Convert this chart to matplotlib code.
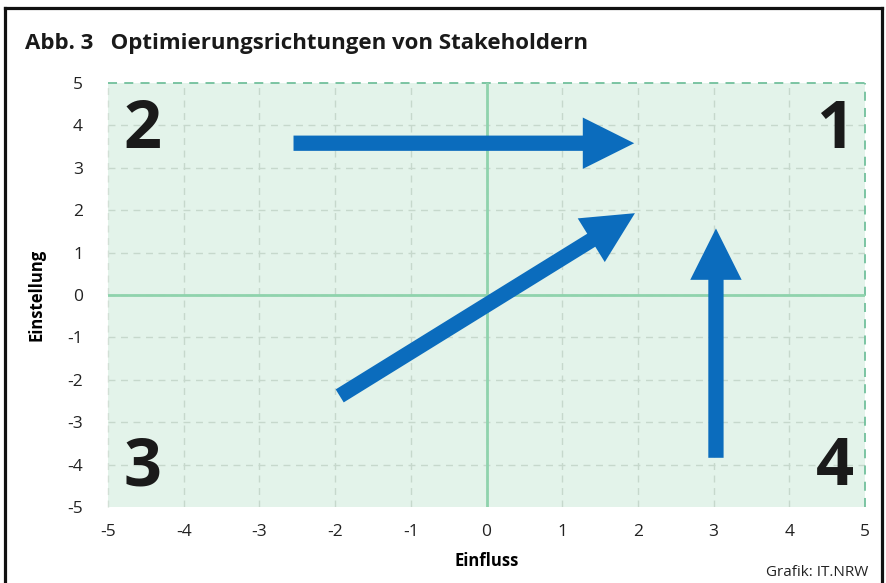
import numpy as np
import matplotlib.pyplot as plt
from matplotlib.lines import Line2D

plt.rcParams['font.family'] = ['Open Sans', 'DejaVu Sans']
plt.rcParams['axes.unicode_minus'] = False

# data
ticks = [-5, -4, -3, -2, -1, 0, 1, 2, 3, 4, 5]
# arrows: (x_start, y_start, x_tip, y_tip)
arrows = [
    (-2.55, 3.58, 1.95, 3.58),
    (-1.94, -2.38, 1.96, 1.93),
    (3.03, -3.84, 3.03, 1.57),
]
quad_labels = ['1', '2', '3', '4']
quad_pos = [(4.60, 3.89), (-4.54, 3.89), (-4.54, -4.08), (4.60, -4.08)]

blue = '#0b6cbd'
bg = '#e3f3ea'

fig = plt.figure(figsize=(8.87, 5.83), dpi=100)
ax = fig.add_axes([0.1218, 0.1304, 0.8535, 0.7272])
ax.set_facecolor(bg)
ax.set_xlim(-5, 5)
ax.set_ylim(-5, 5)

# dashed grid
for t in ticks[1:-1]:
    ax.axvline(t, color='#c6d8cc', lw=1, ls=(0, (5, 4)), zorder=1)
    ax.axhline(t, color='#c6d8cc', lw=1, ls=(0, (5, 4)), zorder=1)
ax.axhline(5, color='#72c09c', lw=1.3, ls=(0, (5, 4)), zorder=1, clip_on=False)
ax.axvline(5, color='#72c09c', lw=1.3, ls=(0, (5, 4)), zorder=1, clip_on=False)
ax.axvline(-5, color='#d2e0d6', lw=1, ls=(0, (5, 4)), zorder=1, clip_on=False)

# axis lines
ax.axhline(0, color='#8fd3ad', lw=2, zorder=2)
ax.axvline(0, color='#8fd3ad', lw=2, zorder=2)

for spine in ax.spines.values():
    spine.set_visible(False)

ax.set_xticks(ticks)
ax.set_yticks(ticks)
ax.tick_params(length=0, labelsize=12.5, colors='#222222')
ax.tick_params(axis='y', pad=18)
ax.tick_params(axis='x', pad=12)

for x0, y0, x1, y1 in arrows:
    ax.annotate('', xy=(x1, y1), xytext=(x0, y0),
                arrowprops=dict(arrowstyle='simple,head_length=37,head_width=37,tail_width=11',
                                mutation_scale=1, fc=blue, ec='none',
                                shrinkA=0, shrinkB=0), zorder=5)

for lab, (qx, qy) in zip(quad_labels, quad_pos):
    ax.text(qx, qy, lab, fontsize=48, fontweight='bold', color='#1a1a1a',
            ha='center', va='center', zorder=6)

ax.set_xlabel('Einfluss', fontsize=12, fontweight='bold', labelpad=9)
ax.set_ylabel('Einstellung', fontsize=12, fontweight='bold', labelpad=16)

fig.text(25 / 887, 1 - 43 / 583, 'Abb. 3   Optimierungsrichtungen von Stakeholdern',
         fontsize=16, fontweight='bold', color='#1a1a1a', va='center', ha='left')
fig.text(868 / 887, 1 - 573 / 583, 'Grafik: IT.NRW', fontsize=11, color='#222222',
         ha='right', va='center')

# frame around the figure
lw = 2.3
fig.add_artist(Line2D([5.5 / 887, 5.5 / 887], [0, 1 - 8 / 583], color='#111111', lw=lw))
fig.add_artist(Line2D([5.5 / 887, 882 / 887], [1 - 8 / 583, 1 - 8 / 583], color='#111111', lw=lw))
fig.add_artist(Line2D([882 / 887, 882 / 887], [0, 1 - 8 / 583], color='#111111', lw=lw))

fig.savefig('out.png', dpi=100)
